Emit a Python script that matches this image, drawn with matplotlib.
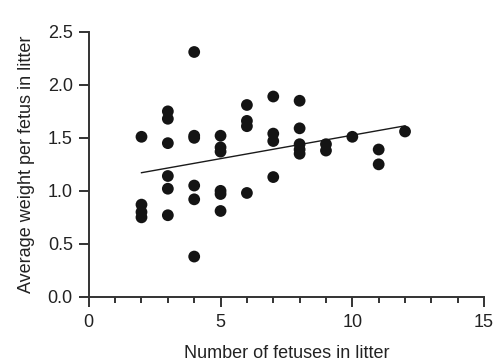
import numpy as np
import matplotlib
matplotlib.use("Agg")
import matplotlib.pyplot as plt
from matplotlib.ticker import MultipleLocator, FormatStrFormatter

plt.rcParams['font.family'] = ['Liberation Sans', 'DejaVu Sans']

fetuses = [2, 2, 2, 2,
           3, 3, 3, 3, 3, 3,
           4, 4, 4, 4, 4, 4,
           5, 5, 5, 5, 5, 5,
           6, 6, 6, 6,
           7, 7, 7, 7,
           8, 8, 8, 8, 8,
           9, 9,
           10,
           11, 11,
           12]
weights = [1.51, 0.87, 0.80, 0.75,
           1.75, 1.68, 1.45, 1.14, 1.02, 0.77,
           2.31, 1.52, 1.50, 1.05, 0.92, 0.38,
           1.52, 1.41, 1.37, 1.00, 0.97, 0.81,
           1.81, 1.66, 1.61, 0.98,
           1.89, 1.54, 1.47, 1.13,
           1.85, 1.59, 1.44, 1.39, 1.35,
           1.44, 1.38,
           1.51,
           1.39, 1.25,
           1.56]

x = np.array(fetuses, dtype=float)
y = np.array(weights)

fig = plt.figure(figsize=(4.96, 3.62), dpi=100)
ax = fig.add_axes([0.179, 0.18, 0.797, 0.732])

ax.scatter(x, y, s=72, color='#141414', zorder=3, edgecolors='none')
slope, intercept = np.polyfit(x, y, 1)
xl = np.array([x.min(), x.max()])
ax.plot(xl, slope * xl + intercept, color='#1a1a1a', lw=1.0, zorder=2)

ax.set_xlim(0, 15)
ax.set_ylim(0, 2.5)
ax.xaxis.set_major_locator(MultipleLocator(5))
ax.xaxis.set_minor_locator(MultipleLocator(1))
ax.yaxis.set_major_locator(MultipleLocator(0.5))
ax.yaxis.set_major_formatter(FormatStrFormatter('%.1f'))
for s in ['top', 'right']:
    ax.spines[s].set_visible(False)
for s in ['left', 'bottom']:
    ax.spines[s].set_linewidth(1.4)
    ax.spines[s].set_color('#333333')
ax.tick_params(axis='both', which='major', length=7.5, width=1.4, color='#333333',
               labelsize=13, labelcolor='#222222')
ax.tick_params(axis='x', which='major', pad=5)
ax.tick_params(axis='y', which='major', pad=4)
ax.tick_params(axis='x', which='minor', length=4.5, width=1.4, color='#333333')

ax.set_xlabel('Number of fetuses in litter', fontsize=13, color='#222222', labelpad=10)
ax.set_ylabel('Average weight per fetus in litter', fontsize=13, color='#222222', labelpad=9)

fig.savefig('out.png', dpi=100)
